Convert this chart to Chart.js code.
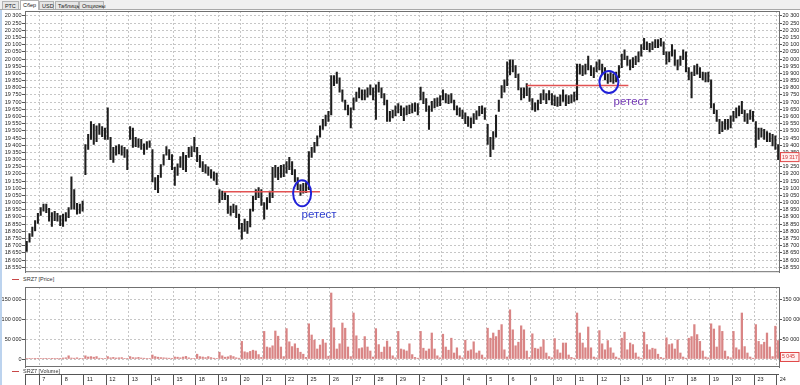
<!DOCTYPE html>
<html>
<head>
<meta charset="utf-8">
<script src="https://cdn.jsdelivr.net/npm/chart.js@4.4.0/dist/chart.umd.min.js"></script>
<style>
  body { margin: 0; width: 800px; height: 385px; overflow: hidden; background: #fff; position: relative; font-family: 'Liberation Sans', Arial, sans-serif; }
  canvas { position: absolute; left: 0; }
  #tabs { position: absolute; left: 0; top: 0; width: 800px; height: 9px; background: #f0f0f0; border-bottom: 1px solid #a8a8a8; }
  .tab { position: absolute; top: 1px; height: 8px; line-height: 8px; font-size: 5.5px; padding: 0 2px; color: #222; background: #e6e6e6; border: 1px solid #b4b4b4; border-bottom: none; box-sizing: border-box; }
  .tab.on { top: 0; height: 10px; background: #fff; }
  #strip { position: absolute; left: 0; top: 10px; width: 2px; height: 375px; background: #bcd3ee; }
  .legend { position: absolute; left: 12px; font-size: 5.5px; line-height: 6px; color: #333; }
  .legend i { display: inline-block; width: 7px; height: 1px; background: #c84848; vertical-align: middle; margin-right: 4px; }
</style>
</head>
<body>
<div id="tabs">
  <div class="tab" style="left:2px;width:17px">РТС</div>
  <div class="tab on" style="left:20px;width:19px">Сбер</div>
  <div class="tab" style="left:39px;width:15px">USD</div>
  <div class="tab" style="left:55px;width:24px">Таблицы</div>
  <div class="tab" style="left:79px;width:25px">Опционы</div>
</div>
<canvas id="price" width="800" height="276" style="top:0"></canvas>
<canvas id="volume" width="800" height="88" style="top:283px"></canvas>
<canvas id="dates" width="800" height="11" style="top:374px"></canvas>
<div id="strip"></div>
<div class="legend" style="top:276px"><i></i>SRZ7 [Price]</div>
<div class="legend" style="top:368px"><i></i>SRZ7 [Volume]</div>
<script>
// trading days on the bottom axis (boundary labels)
const dayLabels = ['7', '8', '11', '12', '13', '14', '15', '18', '19', '20', '21', '22', '25', '26', '27', '28', '29',
  '2', '3', '4', '5', '6', '9', '10', '11', '12', '13', '16', '17', '18', '19', '20', '23', '24'];

// bar lows, 8 bars a day (first row: tail of the previous session, last row: first bar of the 24th)
const lows = [
  18660, 18725, 18765, 18805, 18855,
  18910, 18940, 18930, 18870, 18835, 18875, 18870, 18840,
  18835, 18870, 18895, 18955, 18955, 18920, 18925, 18940,
  19195, 19370, 19440, 19405, 19425, 19475, 19460, 19440,
  19440, 19300, 19280, 19330, 19340, 19330, 19315, 19230,
  19440, 19385, 19390, 19385, 19370, 19335, 19370, 19385,
  19145, 19090, 19070, 19175, 19260, 19330, 19300, 19230,
  19120, 19190, 19245, 19230, 19215, 19315, 19320, 19355,
  19285, 19245, 19215, 19205, 19190, 19170, 19155, 19125,
  19000, 19020, 19020, 18925, 18910, 18930, 18895, 18815,
  18745, 18800, 18785, 18830, 18940, 19020, 19035, 18980,
  18885, 18955, 19000, 19035, 19175, 19160, 19175, 19180,
  19205, 19230, 19195, 19145, 19090, 19050, 19065, 19070,
  19090, 19315, 19350, 19395, 19455, 19510, 19535, 19565,
  19610, 19815, 19830, 19770, 19705, 19645, 19610, 19520,
  19645, 19705, 19730, 19715, 19715, 19735, 19750, 19715,
  19580, 19770, 19730, 19680, 19565, 19565, 19590, 19605,
  19625, 19605, 19570, 19610, 19620, 19625, 19635, 19610,
  19715, 19690, 19635, 19510, 19635, 19660, 19670, 19675,
  19715, 19695, 19690, 19695, 19645, 19610, 19600, 19585,
  19550, 19530, 19520, 19550, 19580, 19605, 19620, 19580,
  19405, 19320, 19370, 19455, 19635, 19730, 19770, 19815,
  19890, 19910, 19870, 19785, 19715, 19730, 19745, 19705,
  19645, 19635, 19645, 19690, 19715, 19690, 19715, 19680,
  19675, 19670, 19675, 19705, 19675, 19690, 19695, 19705,
  19715, 19895, 19885, 19895, 19925, 19885, 19870, 19910,
  19925, 19895, 19855, 19830, 19840, 19830, 19840, 19870,
  19940, 19995, 19955, 19925, 19940, 19960, 19980, 20020,
  20065, 20065, 20050, 20065, 20080, 20080, 20090, 20030,
  19965, 19980, 20020, 19955, 19925, 19955, 19995, 19910,
  19855, 19730, 19885, 19895, 19870, 19855, 19840, 19840,
  19660, 19620, 19565, 19480, 19495, 19510, 19510, 19520,
  19565, 19590, 19605, 19620, 19565, 19550, 19580, 19565,
  19385, 19440, 19455, 19440, 19425, 19425, 19395, 19370,
  19300
];

const highs = [
  18730, 18785, 18830, 18875, 18925,
  18965, 18990, 18990, 18960, 18930, 18940, 18925, 18910,
  18920, 18930, 18965, 19180, 19090, 18995, 18990, 19010,
  19405, 19475, 19565, 19545, 19535, 19550, 19530, 19520,
  19660, 19455, 19385, 19395, 19405, 19395, 19385, 19370,
  19530, 19520, 19455, 19445, 19440, 19410, 19425, 19430,
  19370, 19175, 19190, 19265, 19335, 19390, 19370, 19335,
  19245, 19270, 19320, 19350, 19330, 19385, 19390, 19455,
  19385, 19330, 19285, 19265, 19250, 19230, 19215, 19205,
  19090, 19080, 19070, 19050, 18975, 18990, 18980, 18920,
  18855, 18885, 18870, 18955, 19045, 19090, 19105, 19090,
  19000, 19035, 19080, 19245, 19260, 19245, 19260, 19265,
  19285, 19315, 19285, 19230, 19175, 19125, 19135, 19140,
  19355, 19385, 19420, 19465, 19535, 19580, 19610, 19635,
  19885, 19885, 19910, 19870, 19785, 19715, 19680, 19660,
  19730, 19770, 19800, 19785, 19785, 19800, 19820, 19800,
  19820, 19840, 19800, 19760, 19715, 19635, 19645, 19675,
  19690, 19675, 19660, 19675, 19680, 19690, 19695, 19690,
  19805, 19770, 19725, 19675, 19705, 19725, 19730, 19745,
  19785, 19760, 19750, 19760, 19715, 19675, 19660, 19645,
  19625, 19600, 19590, 19620, 19640, 19670, 19675, 19660,
  19545, 19455, 19495, 19610, 19715, 19815, 19855, 19980,
  19995, 19995, 19955, 19895, 19800, 19800, 19830, 19800,
  19725, 19695, 19715, 19760, 19785, 19760, 19780, 19760,
  19745, 19735, 19750, 19785, 19750, 19745, 19750, 19770,
  19965, 19965, 19955, 19965, 20020, 19955, 19940, 19980,
  19995, 19965, 19940, 19895, 19905, 19895, 19910, 19955,
  20035, 20065, 20020, 19995, 20010, 20020, 20050, 20100,
  20145, 20120, 20110, 20120, 20135, 20135, 20145, 20120,
  20050, 20050, 20100, 20065, 19995, 20020, 20065, 20050,
  19940, 19910, 19955, 19965, 19940, 19910, 19905, 19910,
  19855, 19690, 19645, 19580, 19565, 19580, 19580, 19605,
  19635, 19660, 19675, 19705, 19645, 19620, 19645, 19635,
  19565, 19520, 19520, 19510, 19495, 19485, 19475, 19465,
  19405
];

const volumes = [
  1000, 800, 1200, 600, 900,
  1500, 1000, 800, 1200, 700, 900, 600, 500,
  2500, 3000, 8000, 2500, 2000, 3000, 1500, 1000,
  8000, 5000, 6000, 4500, 6000, 2000, 1500, 1000,
  6000, 3000, 4000, 2500, 3000, 3500, 1500, 1000,
  6000, 3500, 3000, 4000, 2500, 2000, 1500, 1000,
  10000, 6000, 4500, 3500, 3000, 2500, 2000, 1000,
  5000, 4500, 3000, 5000, 6500, 3000, 1500, 1000,
  12000, 6000, 5000, 3500, 6000, 3500, 2000, 1000,
  17000, 8000, 4500, 5500, 8500, 6000, 3000, 2000,
  44000, 18000, 16000, 19000, 22000, 20000, 11000, 4000,
  69000, 30000, 28000, 33000, 70000, 57000, 30000, 6000,
  76000, 43000, 31000, 38000, 27000, 17000, 12000, 4000,
  88000, 60000, 47000, 25000, 35000, 49000, 40000, 7000,
  165000, 78000, 25000, 38000, 90000, 77000, 30000, 6000,
  115000, 58000, 26000, 28000, 56000, 30000, 20000, 5000,
  76000, 36000, 17000, 30000, 45000, 30000, 8000, 3000,
  69000, 25000, 23000, 20000, 38000, 11000, 4000, 2000,
  69000, 27000, 20000, 25000, 65000, 25000, 8000, 3000,
  62000, 30000, 22000, 52000, 15000, 28000, 8000, 3000,
  47000, 20000, 23000, 43000, 15000, 20000, 10000, 3000,
  77000, 52000, 65000, 56000, 72000, 86000, 23000, 5000,
  123000, 73000, 33000, 42000, 83000, 73000, 20000, 4000,
  63000, 27000, 25000, 30000, 48000, 15000, 6000, 3000,
  51000, 23000, 15000, 40000, 40000, 10000, 4000, 2000,
  115000, 65000, 40000, 28000, 80000, 28000, 5000, 3000,
  71000, 38000, 23000, 46000, 28000, 15000, 5000, 2000,
  52000, 67000, 23000, 40000, 36000, 15000, 5000, 2000,
  67000, 36000, 23000, 27000, 25000, 12000, 4000, 2000,
  53000, 36000, 38000, 25000, 48000, 15000, 5000, 2000,
  52000, 56000, 86000, 61000, 44000, 20000, 5000, 3000,
  88000, 75000, 30000, 83000, 69000, 20000, 6000, 3000,
  69000, 28000, 23000, 115000, 31000, 15000, 5000, 2000,
  86000, 44000, 36000, 42000, 65000, 30000, 6000, 82000,
  46000
];

const lastPrice = 19317;
const lastVolume = 5045;

const priceTicks = [];
for (let v = 18550; v <= 20300; v += 50) priceTicks.push(v);
const volumeTicks = [0, 50000, 100000, 150000];

// hand drawn marks: support levels, retest rings, captions (day units / prices)
const levelPrices = [19075, 19815];
const levelFrom = [8.23, 21.81];
const levelTo = [12.56, 26.36];
const ringDays = [11.76, 25.49];
const ringPrices = [19065, 19840];
const captionDays = [12.52, 26.48];
const captionPrices = [18918, 19703];

const barsPerDay = 8;
const firstSlot = 3;            // the first bar sits in slot 3 of the day before the 7th
const xMin = -0.64, xMax = 33.1;
const barX = i => (i + firstSlot + 0.5) / barsPerDay - 1;

const fmt = v => String(v).replace(/\B(?=(\d{3})+(?!\d))/g, ' ');
const axisFont = { family: 'Liberation Sans', size: 5.5 };
const gridColor = '#c6c6c6';
const axisColor = '#707070';

const dayTicks = s => { s.ticks = dayLabels.map((_, k) => ({ value: k })); };

const xScale = {
  type: 'linear', min: xMin, max: xMax, offset: false,
  grid: { offset: false, color: gridColor, drawTicks: false },
  border: { display: false, dash: [2, 2] },
  ticks: { display: false },
  afterBuildTicks: dayTicks,
  afterFit: s => { s.height = 0; }
};

function yAxis(side, min, max, ticks) {
  return {
    position: side, min, max,
    afterBuildTicks: s => { s.ticks = ticks.map(v => ({ value: v })); },
    afterFit: s => { s.width = side === 'left' ? 25 : 21; },
    grid: { display: true, drawOnChartArea: side === 'left', color: gridColor, tickColor: '#555', tickLength: 3 },
    border: { color: axisColor, dash: [2, 2] },
    ticks: { autoSkip: false, font: axisFont, color: '#222', padding: 0.5, callback: v => fmt(v) }
  };
}

const frame = {
  id: 'frame',
  afterDraw(chart) {
    const { ctx, chartArea: a } = chart;
    ctx.save();
    ctx.strokeStyle = axisColor;
    ctx.lineWidth = 1;
    ctx.beginPath();
    ctx.moveTo(a.left, a.top + 0.5); ctx.lineTo(a.right, a.top + 0.5);
    ctx.moveTo(a.left, a.bottom - 0.5); ctx.lineTo(a.right, a.bottom - 0.5);
    ctx.stroke();
    ctx.restore();
  }
};

function lastBox(scaleId, value) {
  return {
    id: 'lastBox',
    afterDraw(chart) {
      const { ctx, chartArea: a } = chart;
      const y = chart.scales[scaleId].getPixelForValue(value);
      ctx.save();
      ctx.fillStyle = '#fff0f0';
      ctx.strokeStyle = '#e04848';
      ctx.fillRect(a.right + 1, y - 4.5, 19, 9);
      ctx.strokeRect(a.right + 1.5, y - 4.5, 18.5, 9);
      ctx.fillStyle = '#d03030';
      ctx.font = '5.2px "Liberation Sans"';
      ctx.textBaseline = 'middle';
      ctx.fillText(fmt(value), a.right + 3, y);
      ctx.restore();
    }
  };
}

const retest = {
  id: 'retest',
  afterDatasetsDraw(chart) {
    const { ctx, scales: { x, y } } = chart;
    ctx.save();
    ctx.strokeStyle = '#e25252';
    ctx.lineWidth = 1.5;
    levelPrices.forEach((p, k) => {
      const py = y.getPixelForValue(p);
      ctx.beginPath();
      ctx.moveTo(x.getPixelForValue(levelFrom[k]), py);
      ctx.lineTo(x.getPixelForValue(levelTo[k]), py);
      ctx.stroke();
    });
    const rings = [[9, 13], [9.5, 11]];
    const colors = ['#3040d0', '#7338b5'];
    ringDays.forEach((d, k) => {
      ctx.strokeStyle = '#2020d8';
      ctx.lineWidth = 2;
      ctx.beginPath();
      ctx.ellipse(x.getPixelForValue(d), y.getPixelForValue(ringPrices[k]), rings[k][0], rings[k][1], 0, 0, Math.PI * 2);
      ctx.stroke();
      ctx.fillStyle = colors[k];
      ctx.font = '11.5px "Liberation Sans"';
      ctx.textAlign = 'center';
      ctx.textBaseline = 'middle';
      ctx.fillText('ретест', x.getPixelForValue(captionDays[k]), y.getPixelForValue(captionPrices[k]));
    });
    ctx.restore();
  }
};

const common = {
  responsive: false, animation: false, devicePixelRatio: 1,
  plugins: { legend: { display: false }, tooltip: { enabled: false } }
};

// price panel: high-low sticks
const priceMax = 20334.7, priceMin = 18515.3;
new Chart(document.getElementById('price'), {
  type: 'bar',
  data: {
    datasets: [{
      data: highs.map((h, i) => ({ x: barX(i), y: [lows[i], h] })),
      backgroundColor: '#1e1e1e', borderWidth: 0, barThickness: 1.4
    }]
  },
  options: {
    ...common,
    layout: { padding: { top: 11, bottom: 3 } },
    scales: {
      x: xScale,
      y: yAxis('left', priceMin, priceMax, priceTicks),
      yR: yAxis('right', priceMin, priceMax, priceTicks)
    }
  },
  plugins: [frame, retest, lastBox('yR', lastPrice)]
});

// volume panel
new Chart(document.getElementById('volume'), {
  type: 'bar',
  data: {
    datasets: [{
      data: volumes.map((v, i) => ({ x: barX(i), y: v })),
      backgroundColor: '#d98585', borderWidth: 0, barThickness: 1.6
    }]
  },
  options: {
    ...common,
    layout: { padding: { top: 4, bottom: 4 } },
    scales: {
      x: xScale,
      y: yAxis('left', -20000, 180000, volumeTicks),
      yR: yAxis('right', -20000, 180000, volumeTicks)
    }
  },
  plugins: [frame, lastBox('yR', lastVolume)]
});

// date row
new Chart(document.getElementById('dates'), {
  type: 'line',
  data: { datasets: [] },
  options: {
    ...common,
    layout: { padding: { left: 25, right: 21 } },
    scales: {
      x: {
        type: 'linear', min: xMin, max: xMax, offset: false,
        grid: { color: '#555', drawTicks: false },
        border: { display: false },
        ticks: { display: false },
        afterBuildTicks: dayTicks,
        afterFit: s => { s.height = 0; }
      },
      y: { display: false }
    }
  },
  plugins: [{
    id: 'dayNames',
    afterDraw(chart) {
      const { ctx, chartArea: a, scales: { x } } = chart;
      ctx.save();
      ctx.strokeStyle = '#555';
      ctx.beginPath();
      ctx.moveTo(a.left + 0.5, 0); ctx.lineTo(a.left + 0.5, 11);
      ctx.moveTo(a.left, 0.5); ctx.lineTo(a.right, 0.5);
      ctx.stroke();
      ctx.fillStyle = '#222';
      ctx.font = '5.5px "Liberation Sans"';
      ctx.textBaseline = 'middle';
      dayLabels.forEach((t, k) => ctx.fillText(t, x.getPixelForValue(k) + 3, 5.5));
      ctx.restore();
    }
  }]
});
</script>
</body>
</html>
